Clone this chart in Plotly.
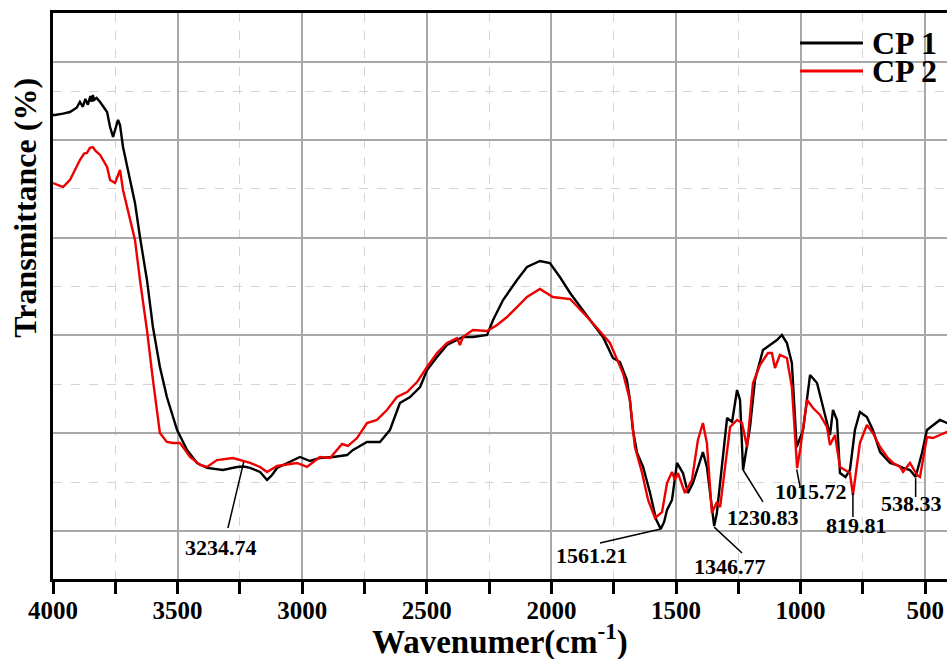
import plotly.graph_objects as go

# FTIR spectra of CP 1 and CP 2 (wavenumber in cm^-1, transmittance in arbitrary %)
cp1_wavenumber = [
    4000, 3992, 3960, 3932, 3905, 3892, 3880, 3870, 3860, 3850, 3845, 3840, 3835,
    3825, 3811, 3800, 3783, 3771, 3759, 3739, 3731, 3719, 3691, 3671, 3651, 3623,
    3599, 3571, 3543, 3502, 3462, 3422, 3382, 3318, 3262, 3234.74, 3209, 3169,
    3141, 3121, 3101, 3049, 3009, 2969, 2929, 2876, 2820, 2796, 2740, 2688, 2648,
    2608, 2567, 2527, 2499, 2459, 2419, 2395, 2355, 2315, 2258, 2234, 2194, 2138,
    2098, 2046, 2006, 1966, 1925, 1845, 1793, 1753, 1725, 1697, 1685, 1673, 1656,
    1632, 1604, 1580, 1561.21, 1548, 1536, 1516, 1496, 1472, 1452, 1432, 1392,
    1376, 1346.77, 1336, 1311, 1295, 1275, 1255, 1243, 1230.83, 1203, 1183, 1151,
    1123, 1095, 1075, 1055, 1035, 1015.72, 990, 962, 934, 910, 882, 870, 854, 842,
    819.81, 802, 782, 762, 734, 710, 681, 641, 613, 589, 561, 538.33, 513, 493,
    469, 441, 413, 405,
]
cp1_transmittance = [
    52.56, 52.56, 52.70, 52.86, 53.30, 53.89, 53.40, 54.20, 53.60, 54.50, 53.90,
    54.60, 54.10, 54.30, 53.89, 53.50, 52.86, 51.33, 50.31, 52.05, 51.53, 49.28,
    45.91, 43.56, 40.08, 35.68, 30.87, 26.78, 23.71, 20.33, 18.29, 16.96, 16.45,
    16.24, 16.55, 16.60, 16.45, 16.04, 15.22, 15.73, 16.45, 17.06, 17.57, 17.16,
    17.47, 17.57, 17.77, 18.29, 19.11, 19.11, 20.33, 23.09, 23.71, 24.73, 26.47,
    27.80, 29.03, 29.33, 29.85, 29.85, 30.05, 31.59, 33.63, 35.68, 37.01, 37.62,
    37.42, 35.98, 34.35, 31.59, 29.85, 27.70, 27.29, 25.45, 23.40, 20.33, 17.98,
    16.55, 13.89, 11.20, 10.20, 10.90, 12.15, 13.17, 16.96, 15.93, 13.89, 14.91,
    18.08, 16.55, 10.50, 11.84, 17.98, 21.56, 21.15, 24.42, 23.40, 16.24, 20.64,
    25.45, 28.51, 29.03, 29.54, 30.05, 29.23, 27.19, 18.59, 20.33, 25.96, 25.14,
    22.69, 19.82, 22.38, 21.36, 15.93, 15.52, 16.24, 20.33, 22.17, 21.66, 20.33,
    18.08, 16.96, 16.75, 16.45, 16.24, 15.52, 17.98, 20.33, 20.84, 21.36, 21.05,
    21.00,
]

cp2_wavenumber = [
    4000, 3960, 3932, 3892, 3875, 3864, 3852, 3840, 3830, 3811, 3783, 3771, 3751,
    3731, 3719, 3691, 3671, 3651, 3623, 3599, 3571, 3543, 3518, 3490, 3478, 3450,
    3410, 3382, 3342, 3278, 3209, 3169, 3141, 3101, 3049, 3021, 2981, 2929, 2888,
    2840, 2816, 2780, 2740, 2700, 2660, 2620, 2579, 2539, 2499, 2459, 2419, 2379,
    2367, 2355, 2315, 2258, 2218, 2178, 2138, 2098, 2046, 1994, 1925, 1845, 1765,
    1713, 1685, 1665, 1636, 1612, 1584, 1556, 1536, 1516, 1504, 1492, 1464, 1436,
    1412, 1392, 1376, 1356, 1336, 1323, 1303, 1283, 1255, 1235, 1215, 1191, 1163,
    1131, 1115, 1103, 1083, 1055, 1035, 1014, 1002, 974, 950, 922, 894, 882, 862,
    842, 822, 802, 790, 762, 734, 710, 681, 653, 629, 601, 589, 561, 533, 521, 493,
    469, 441, 413, 405,
]
cp2_transmittance = [
    45.60, 45.19, 45.91, 47.95, 48.60, 48.67, 49.20, 49.28, 48.90, 48.47, 47.24,
    45.91, 45.60, 46.93, 44.88, 41.81, 39.77, 35.68, 30.56, 25.45, 20.03, 19.11,
    19.00, 19.00, 18.59, 17.57, 16.75, 16.55, 17.26, 17.47, 16.96, 16.55, 16.04,
    16.65, 16.85, 16.96, 16.55, 17.57, 17.47, 18.90, 18.70, 19.51, 21.05, 21.36,
    22.38, 23.71, 24.22, 25.24, 26.78, 28.21, 29.23, 29.74, 29.03, 29.85, 30.56,
    30.46, 31.07, 31.89, 32.91, 33.94, 34.76, 33.94, 33.73, 31.59, 29.23, 26.16,
    23.40, 18.59, 15.93, 13.17, 11.33, 11.94, 14.91, 16.04, 15.22, 15.93, 13.89,
    15.22, 19.31, 21.05, 18.99, 11.84, 12.97, 12.45, 16.55, 20.64, 21.36, 21.05,
    18.59, 25.14, 26.98, 28.21, 28.21, 26.68, 28.01, 27.70, 24.73, 16.45, 18.29,
    23.40, 22.58, 21.87, 20.64, 18.80, 19.82, 16.55, 16.24, 15.93, 13.68, 19.00,
    20.84, 20.03, 18.59, 17.57, 16.96, 16.55, 16.04, 16.96, 15.73, 15.52, 19.62,
    19.51, 19.82, 20.13, 20.10,
]

# Peak labels with their leader lines (tip on the curve, end near the text)
peak_labels = ["3234.74", "1561.21", "1346.77", "1230.83", "1015.72", "819.81", "538.33"]
peak_tip_x = [3234.74, 1561.21, 1346.77, 1230.83, 1015.72, 790, 538.33]
peak_tip_y = [17.06, 10.20, 10.40, 16.24, 16.30, 13.90, 15.40]
leader_end_x = [3298, 1805, 1235, 1151, 1002, 790, 538.33]
leader_end_y = [10.31, 8.77, 7.75, 12.97, 14.50, 11.43, 13.48]
label_x = [3326, 1839, 1283, 1151, 958, 774, 553]
label_y = [8.36, 7.54, 6.42, 11.43, 14.09, 10.61, 12.86]

major_x = [4000, 3500, 3000, 2500, 2000, 1500, 1000, 500]
minor_x = [3750, 3250, 2750, 2250, 1750, 1250, 750]
major_y = [10, 20, 30, 40, 50, 58]
minor_y = [15, 25, 35, 45, 55]

SERIF = "Liberation Serif, Times New Roman, serif"
BLACK = "#000000"
RED = "#ee0000"

fig = go.Figure()
fig.add_trace(go.Scatter(x=cp1_wavenumber, y=cp1_transmittance, mode="lines",
                         name="CP 1", line=dict(color=BLACK, width=2.4)))
fig.add_trace(go.Scatter(x=cp2_wavenumber, y=cp2_transmittance, mode="lines",
                         name="CP 2", line=dict(color=RED, width=2.4)))

# leader lines and peak labels
for txt, tx, ty, ex, ey, lx, ly in zip(peak_labels, peak_tip_x, peak_tip_y,
                                       leader_end_x, leader_end_y, label_x, label_y):
    fig.add_shape(type="line", xref="x", yref="y", x0=tx, y0=ty, x1=ex, y1=ey,
                  line=dict(color=BLACK, width=1.5))
    fig.add_annotation(x=lx, y=ly, xref="x", yref="y", text=txt, showarrow=False,
                       xanchor="center", yanchor="middle",
                       font=dict(family=SERIF, size=22, color=BLACK, weight="bold"))

# legend drawn as line samples with labels in the top-right corner
legend_items = [("CP 1", BLACK, 0.947), ("CP 2", RED, 0.8975)]
for name, color, yy in legend_items:
    fig.add_shape(type="line", xref="paper", yref="paper", x0=0.8356, x1=0.906,
                  y0=yy, y1=yy, line=dict(color=color, width=3))
    fig.add_annotation(x=0.9139, y=yy, xref="paper", yref="paper", text=name,
                       showarrow=False, xanchor="left", yanchor="middle",
                       font=dict(family=SERIF, size=32, color=BLACK, weight="bold"))

# axis titles
fig.add_annotation(x=-0.0313, y=0.656, xref="paper", yref="paper",
                   text="Transmittance (%)", textangle=-90, showarrow=False,
                   xanchor="center", yanchor="middle",
                   font=dict(family=SERIF, size=32, color=BLACK, weight="bold"))
fig.add_annotation(x=0.5, y=-0.1075, xref="paper", yref="paper",
                   text="Wavenumer(cm<sup>-1</sup>)", showarrow=False,
                   xanchor="center", yanchor="middle",
                   font=dict(family=SERIF, size=33, color=BLACK, weight="bold"))

fig.update_layout(
    width=947, height=659,
    margin=dict(l=53, r=0, t=13, b=80),
    paper_bgcolor="white", plot_bgcolor="white",
    showlegend=False,
    xaxis=dict(
        range=[4000, 412.5], tickmode="array", tickvals=major_x,
        ticktext=[str(v) for v in major_x],
        ticks="outside", ticklen=12, tickwidth=3, tickcolor=BLACK,
        ticklabelstandoff=-5,
        showline=True, linewidth=3, linecolor=BLACK, mirror=True,
        showgrid=True, gridcolor="#a8a8a8", gridwidth=1.5, zeroline=False,
        tickfont=dict(family=SERIF, size=25, color=BLACK, weight="bold"),
        minor=dict(tickmode="array", tickvals=minor_x, ticks="outside", ticklen=12,
                   tickwidth=3, tickcolor=BLACK, showgrid=True,
                   gridcolor="#d4d4d4", griddash="dash", gridwidth=1),
    ),
    yaxis=dict(
        range=[5.09, 62.99], tickmode="array", tickvals=major_y,
        showticklabels=False, ticks="",
        showline=True, linewidth=3, linecolor=BLACK, mirror=False,
        showgrid=True, gridcolor="#a8a8a8", gridwidth=1.5, zeroline=False,
        minor=dict(tickmode="array", tickvals=minor_y, showgrid=True,
                   gridcolor="#d4d4d4", griddash="dash", gridwidth=1),
    ),
)

fig.write_html("out.html")
